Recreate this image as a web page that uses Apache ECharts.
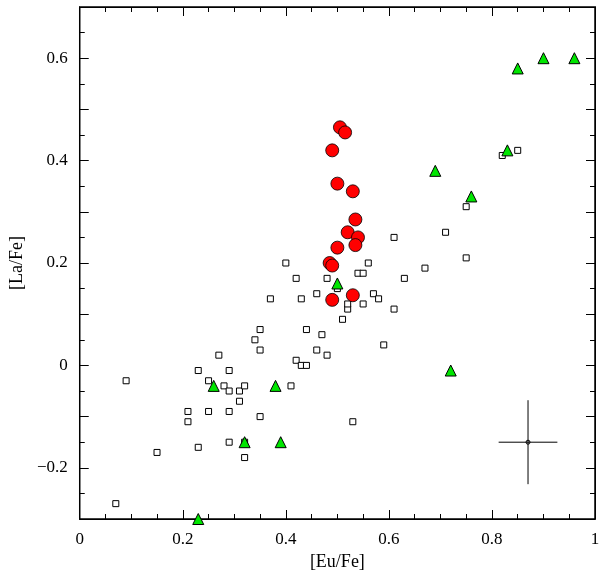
<!DOCTYPE html>
<html><head><meta charset="utf-8">
<script src="https://cdn.jsdelivr.net/npm/echarts@6/dist/echarts.min.js"></script>
<style>html,body{margin:0;background:#fff}#c{width:607px;height:580px}</style>
</head><body><div id="c"></div>
<script>
// open squares
const squares = [[0.07,-0.27],[0.09,-0.03],[0.15,-0.17],[0.21,-0.09],[0.21,-0.11],[0.23,-0.01],[0.23,-0.16],
  [0.25,-0.03],[0.25,-0.09],[0.27,0.02],[0.28,-0.04],[0.29,-0.05],[0.29,-0.01],[0.29,-0.09],[0.29,-0.15],
  [0.31,-0.05],[0.31,-0.07],[0.32,-0.04],[0.32,-0.15],[0.32,-0.18],[0.34,0.05],[0.35,0.07],[0.35,0.03],
  [0.35,-0.10],[0.37,0.13],[0.40,0.20],[0.41,-0.04],[0.42,0.01],[0.42,0.17],[0.43,0.13],[0.43,0.00],
  [0.44,0.00],[0.44,0.07],[0.46,0.14],[0.46,0.03],[0.47,0.06],[0.48,0.17],[0.48,0.02],[0.49,0.20],
  [0.50,0.15],[0.51,0.09],[0.52,0.11],[0.52,0.12],[0.53,-0.11],[0.54,0.18],[0.55,0.18],[0.55,0.12],
  [0.56,0.20],[0.57,0.14],[0.58,0.13],[0.59,0.04],[0.61,0.25],[0.61,0.11],[0.63,0.17],[0.67,0.19],
  [0.71,0.26],[0.75,0.31],[0.75,0.21],[0.82,0.41],[0.85,0.42]];
// green triangles
const triangles = [[0.23,-0.30],[0.26,-0.04],[0.32,-0.15],[0.38,-0.04],[0.39,-0.15],[0.50,0.16],[0.69,0.38],
  [0.72,-0.01],[0.76,0.33],[0.83,0.42],[0.85,0.58],[0.90,0.60],[0.96,0.60]];
// red circles
const circles = [[0.49,0.42],[0.505,0.465],[0.515,0.455],[0.50,0.355],[0.53,0.34],[0.535,0.285],[0.52,0.26],
  [0.54,0.25],[0.535,0.235],[0.50,0.23],[0.485,0.20],[0.49,0.195],[0.53,0.137],[0.49,0.128]];
// typical error bar: x, y, dx, dy
const errBar = [0.87, -0.15, 0.057, 0.082];

const font = 'Liberation Serif';
const axisCommon = {
  axisLine: {onZero: false, lineStyle: {color: '#000', width: 1}},
  axisTick: {inside: true, length: 9, lineStyle: {color: '#000'}},
  minorTick: {show: true, length: 5, lineStyle: {color: '#000'}},
  splitLine: {show: false},
  axisLabel: {color: '#000', fontFamily: font, fontSize: 17}
};
const xBase = Object.assign({type: 'value', min: 0, max: 1, interval: 0.2}, axisCommon);
const yBase = Object.assign({type: 'value', min: -0.3, max: 0.7, interval: 0.1}, axisCommon);
yBase.minorTick = Object.assign({}, axisCommon.minorTick, {splitNumber: 2});
xBase.minorTick = Object.assign({}, axisCommon.minorTick, {splitNumber: 4});

const xFmt = v => v === 0 ? '0' : v === 1 ? '1' : String(+v.toFixed(1));
const yFmt = v => {
  const k = Math.round(v * 10);
  if (k % 2 !== 0) return '';
  return k === 0 ? '0' : (k / 10).toFixed(1).replace('-', '\u2212');
};

const chart = echarts.init(document.getElementById('c'));
chart.setOption({
  animation: false,
  grid: {left: 78, right: 12, top: 7, bottom: 61, show: true, borderColor: '#000', borderWidth: 1.5},
  xAxis: [
    Object.assign({}, xBase, {position: 'bottom', name: '[Eu/Fe]', nameLocation: 'middle', nameGap: 30,
      nameTextStyle: {fontFamily: font, fontSize: 18, color: '#000'},
      axisLabel: Object.assign({}, axisCommon.axisLabel, {formatter: xFmt, margin: 12})}),
    Object.assign({}, xBase, {position: 'top', axisLabel: {show: false}})
  ],
  yAxis: [
    Object.assign({}, yBase, {position: 'left', name: '[La/Fe]', nameLocation: 'middle', nameGap: 50,
      nameTextStyle: {fontFamily: font, fontSize: 18, color: '#000'},
      axisLabel: Object.assign({}, axisCommon.axisLabel, {formatter: yFmt, margin: 12})}),
    Object.assign({}, yBase, {position: 'right', axisLabel: {show: false}})
  ],
  series: [
    {type: 'scatter', data: squares, symbol: 'rect', symbolSize: 6,
      itemStyle: {color: '#fff', borderColor: '#000', borderWidth: 1, opacity: 1}},
    {type: 'scatter', data: triangles, symbol: 'triangle', symbolSize: 11,
      itemStyle: {color: '#00e600', borderColor: '#000', borderWidth: 1, opacity: 1}},
    {type: 'scatter', data: circles, symbol: 'circle', symbolSize: 13,
      itemStyle: {color: '#ff0000', borderColor: '#000', borderWidth: 0.8, opacity: 1}},
    {type: 'line', data: [[errBar[0] - errBar[2], errBar[1]], [errBar[0] + errBar[2], errBar[1]]],
      symbol: 'none', lineStyle: {color: '#000', width: 1}},
    {type: 'line', data: [[errBar[0], errBar[1] - errBar[3]], [errBar[0], errBar[1] + errBar[3]]],
      symbol: 'none', lineStyle: {color: '#000', width: 1}},
    {type: 'scatter', data: [[errBar[0], errBar[1]]], symbol: 'circle', symbolSize: 4,
      itemStyle: {color: '#fff', borderColor: '#000', borderWidth: 1, opacity: 1}}
  ]
});
</script></body></html>
